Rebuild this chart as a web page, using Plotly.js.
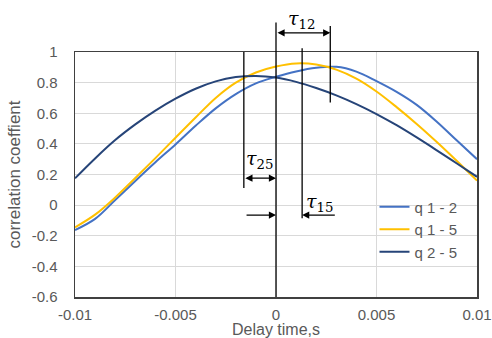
<!DOCTYPE html>
<html>
<head>
<meta charset="utf-8">
<script src="https://cdn.plot.ly/plotly-3.0.1.min.js"></script>
<style>html,body{margin:0;padding:0;background:#fff;}#chart{width:492px;height:338px;}</style>
</head>
<body>
<div id="chart"></div>
<script>
// Delay time (s)
const delay = [-0.010,-0.009,-0.008,-0.007,-0.006,-0.005,-0.004,-0.003,-0.002,-0.001,0.000,
               0.001,0.002,0.003,0.004,0.005,0.006,0.007,0.008,0.009,0.010];
// correlation coefficient series
const q12 = [-0.163,-0.090,0.033,0.158,0.280,0.396,0.518,0.632,0.725,0.795,0.838,
             0.873,0.897,0.903,0.872,0.810,0.740,0.655,0.545,0.422,0.300];
const q15 = [-0.145,-0.062,0.050,0.177,0.307,0.440,0.572,0.700,0.800,0.866,0.905,
             0.925,0.918,0.885,0.826,0.742,0.640,0.530,0.412,0.288,0.160];
const q25 = [0.175,0.305,0.425,0.527,0.617,0.695,0.760,0.808,0.836,0.844,0.833,
             0.805,0.765,0.717,0.660,0.595,0.522,0.442,0.358,0.272,0.185];
const seriesNames = ["q 1 - 2","q 1 - 5","q 2 - 5"];
const xTicks = [-0.01,-0.005,0,0.005,0.01];
const xTickText = ["-0.01","-0.005","0","0.005","0.01"];
const yTicks = [-0.6,-0.4,-0.2,0,0.2,0.4,0.6,0.8,1];
const yTickText = ["-0.6","-0.4","-0.2","0","0.2","0.4","0.6","0.8","1"];
// peak delays marked on the chart (s)
const lag12 = 0.0027, lag15 = 0.0013, lag25 = -0.0016;

const yRange = [-0.6, 1];
const toPaper = v => (v - yRange[0]) / (yRange[1] - yRange[0]);

const colors = ["#4472C4","#FFC000","#264478"];
const ys = [q12,q15,q25];
const traces = ys.map((y,i)=>({
  x: delay, y: y, type:"scatter", mode:"lines", name: seriesNames[i],
  line:{color:colors[i], width:2, shape:"spline", smoothing:1},
  hoverinfo:"skip"
}));

// dimension-arrow levels (data units)
const yArr12 = 1.125, yArr25 = 0.176, yArr15 = -0.065;

const blk = {color:"#000", width:1.3};
const vline = (x, y0, y1) => ({type:"line", xref:"x", yref:"paper", x0:x, x1:x, y0:toPaper(y0), y1:toPaper(y1), line:blk});
const shapes = [
  vline(0, -0.6, 1.192),
  vline(lag12, 0.67, 1.17),
  vline(lag15, -0.085, 1.024),
  vline(lag25, 0.112, 1.0)
];

const arrow = (x0, x1, y, both) => ({
  xref:"x", yref:"paper", x:x1, y:toPaper(y), axref:"x", ayref:"pixel", ax:x0, ay:0,
  text:"", showarrow:true, arrowhead:2, arrowsize:1.1, arrowwidth:1.3, arrowcolor:"#000",
  standoff:0, startstandoff:0, arrowside: both ? "end+start" : "end"
});
const tauFont = {family:"DejaVu Serif, Liberation Serif, serif", size:19, color:"#000"};
const label = (x, y, t) => ({xref:"x", yref:"paper", x:x, y:toPaper(y), text:t, showarrow:false,
  font:tauFont, xanchor:"center", yanchor:"middle"});
const annotations = [
  arrow(0, lag12, yArr12, true),
  arrow(lag25, 0, yArr25, true),
  arrow(-0.00154, 0, yArr15, false),
  arrow(0.003, lag15, yArr15, false),
  label(0.00125, 1.215, "<i>τ</i><sub>12</sub>"),
  label(-0.0008, 0.30, "<i>τ</i><sub>25</sub>"),
  label(0.00214, 0.02, "<i>τ</i><sub>15</sub>")
];

const txtFont = "Liberation Sans, Arial, sans-serif";
const axisFont = {family:txtFont, size:15, color:"#595959"};
const layout = {
  width:492, height:338,
  margin:{l:75, r:15, t:52, b:41, pad:0},
  paper_bgcolor:"#fff", plot_bgcolor:"#fff",
  showlegend:true,
  legend:{x:0.745, y:0.435, xanchor:"left", yanchor:"top", bgcolor:"rgba(0,0,0,0)",
    font:{family:txtFont, size:15, color:"#595959"}, tracegroupgap:0},
  xaxis:{range:[-0.01,0.01], tickvals:xTicks, ticktext:xTickText, tickfont:axisFont,
    showgrid:true, gridcolor:"#d9d9d9", gridwidth:1, zeroline:false, ticklabeloverflow:"allow",
    showline:true, linecolor:"#404040", linewidth:1.5, mirror:true, ticks:"", ticklabelstandoff:3,
    title:{text:"Delay time,s", font:{family:txtFont, size:16, color:"#595959"}, standoff:10},
    automargin:false},
  yaxis:{range:yRange, tickvals:yTicks, ticktext:yTickText, tickfont:axisFont,
    showgrid:true, gridcolor:"#d9d9d9", gridwidth:1, zeroline:false,
    showline:true, linecolor:"#404040", linewidth:1.5, mirror:true, ticks:"", ticklabelstandoff:13,
    title:{text:"correlation coeffient", font:{family:txtFont, size:17, color:"#595959"}, standoff:6},
    automargin:false},
  shapes: shapes,
  annotations: annotations
};
Plotly.newPlot("chart", traces, layout, {staticPlot:true, displayModeBar:false});
</script>
</body>
</html>
